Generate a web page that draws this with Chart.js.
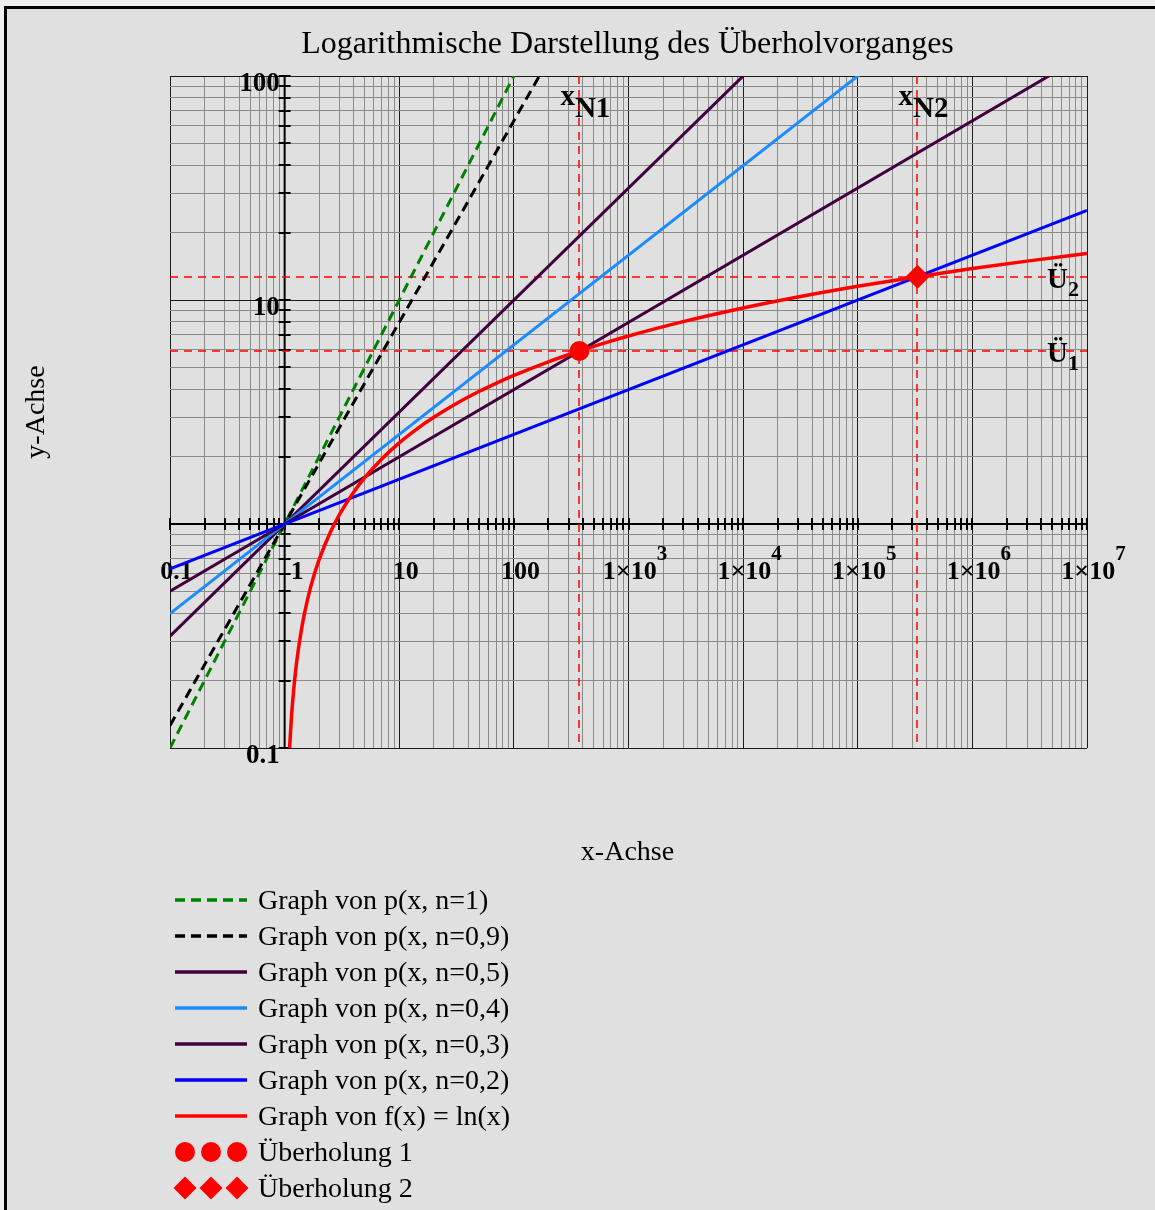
<!DOCTYPE html>
<html lang="de">
<head>
<meta charset="utf-8">
<title>Logarithmische Darstellung des Überholvorganges</title>
<script src="https://cdn.jsdelivr.net/npm/chart.js@4.4.1/dist/chart.umd.min.js"></script>
<style>
  html, body { margin: 0; padding: 0; background: #efefef; }
  body { width: 1155px; height: 1210px; position: relative; overflow: hidden; }
  #frame {
    position: absolute; left: 4px; top: 6px; width: 1170px; height: 1220px;
    background: #e0e0e0; border-left: 3px solid #000; border-top: 3px solid #000;
  }
  #plot { position: absolute; left: 0; top: 0; }
</style>
</head>
<body>
<div id="frame"></div>
<canvas id="plot" width="1155" height="1210"></canvas>
<script>
// ---- axis ranges -------------------------------------------------------
const xRange = [0.1, 1e7];
const yRange = [0.1, 100];

// ---- power functions p(x, n) = x^n, straight lines on log-log axes -----
// y values at the two ends of the x range
const powerX = [0.1, 1e7];
const powN10 = [0.1, 1e7];
const powN09 = [0.126, 1.995e6];
const powN05 = [0.316, 3162];
const powN04 = [0.398, 631];
const powN03 = [0.501, 125.9];
const powN02 = [0.631, 25.12];

// ---- f(x) = ln(x) --------------------------------------------------------
const lnX = [1.09, 1.105, 1.12, 1.15, 1.2, 1.25, 1.3, 1.4, 1.5, 1.7, 2, 2.5, 3, 4, 5, 7, 10, 15, 20, 30, 50, 70,
             100, 200, 373, 700, 1000, 3000, 1e4, 3e4, 1e5, 3.32e5, 1e6, 3e6, 1e7];
const lnY = [0.086, 0.1, 0.113, 0.14, 0.182, 0.223, 0.262, 0.336, 0.405, 0.531, 0.693, 0.916, 1.099, 1.386, 1.609,
             1.946, 2.303, 2.708, 2.996, 3.401, 3.912, 4.248, 4.605, 5.298, 5.92, 6.551, 6.908, 8.006, 9.21,
             10.309, 11.513, 12.71, 13.816, 14.914, 16.118];

// ---- overtaking points (ln(x) overtakes x^0.3, then x^0.2) -------------
const overtakeX = [373, 3.32e5];
const overtakeY = [5.92, 12.71];
const overtakeXName = ['N1', 'N2'];
const overtakeYName = ['1', '2'];

// ---- tick labels --------------------------------------------------------
const xLabelValues = [0.1, 1, 10, 100, 1e3, 1e4, 1e5, 1e6, 1e7];
const xLabelMain = ['0.1', '1', '10', '100', '1×10', '1×10', '1×10', '1×10', '1×10'];
const xLabelPower = ['', '', '', '', '3', '4', '5', '6', '7'];
const yLabelValues = [0.1, 10, 100];
const yLabelText = ['0.1', '10', '100'];

// ---- texts --------------------------------------------------------------
const titleText = 'Logarithmische Darstellung des Überholvorganges';
const xTitle = 'x-Achse';
const yTitle = 'y-Achse';
const seriesNames = [
  'Graph von p(x, n=1)', 'Graph von p(x, n=0,9)', 'Graph von p(x, n=0,5)', 'Graph von p(x, n=0,4)',
  'Graph von p(x, n=0,3)', 'Graph von p(x, n=0,2)', 'Graph von f(x) = ln(x)', 'Überholung 1', 'Überholung 2'
];

const SERIF = '"Liberation Serif", "Times New Roman", serif';
const PURPLE = '#400040';
const RED = '#ff0000';

function pairs(xs, ys) { return xs.map((v, i) => ({ x: v, y: ys[i] })); }

// grid values 1..9 x 10^e inside a range
function logGridTicks(min, max) {
  const out = [];
  const e0 = Math.round(Math.log10(min)), e1 = Math.round(Math.log10(max));
  for (let e = e0; e < e1; e++) {
    for (let k = 1; k <= 9; k++) out.push({ value: +(k * Math.pow(10, e)).toPrecision(6) });
  }
  out.push({ value: max });
  return out;
}
function isDecade(v) {
  const l = Math.log10(v);
  return Math.abs(l - Math.round(l)) < 1e-6;
}
const gridColor = (c) => (c.tick && isDecade(c.tick.value)) ? '#1a1a1a' : '#8a8a8a';

const line = { showLine: true, pointRadius: 0, pointHoverRadius: 0, borderWidth: 3, fill: false, tension: 0 };

const datasets = [
  { ...line, label: seriesNames[0], data: pairs(powerX, powN10), borderColor: '#008000', borderDash: [10, 6] },
  { ...line, label: seriesNames[1], data: pairs(powerX, powN09), borderColor: '#000000', borderDash: [10, 6] },
  { ...line, label: seriesNames[2], data: pairs(powerX, powN05), borderColor: PURPLE },
  { ...line, label: seriesNames[3], data: pairs(powerX, powN04), borderColor: '#1a8cff' },
  { ...line, label: seriesNames[4], data: pairs(powerX, powN03), borderColor: PURPLE },
  { ...line, label: seriesNames[5], data: pairs(powerX, powN02), borderColor: '#0000ff' },
  { ...line, label: seriesNames[6], data: pairs(lnX, lnY), borderColor: RED, borderWidth: 3.5,
    cubicInterpolationMode: 'monotone' },
  { label: seriesNames[7], data: pairs([overtakeX[0]], [overtakeY[0]]), showLine: false,
    pointStyle: 'circle', pointRadius: 10, backgroundColor: RED, borderColor: RED, borderWidth: 0 },
  { label: seriesNames[8], data: pairs([overtakeX[1]], [overtakeY[1]]), showLine: false,
    pointStyle: 'rectRot', pointRadius: 12, backgroundColor: RED, borderColor: RED, borderWidth: 0 }
];
// draw order: first series on top
datasets.forEach((d, i) => { d.order = datasets.length - i; });

function font(size, bold) { return (bold ? 'bold ' : '') + size + 'px ' + SERIF; }

// text with a raised or lowered smaller part
function drawScripted(ctx, x, y, main, extra, mainSize, extraSize, dy, align) {
  ctx.font = font(mainSize, true);
  const w1 = ctx.measureText(main).width;
  ctx.font = font(extraSize, true);
  const w2 = extra ? ctx.measureText(extra).width : 0;
  let left = x;
  if (align === 'center') left = x - (w1 + w2) / 2;
  ctx.textAlign = 'left';
  ctx.font = font(mainSize, true);
  ctx.fillText(main, left, y);
  if (extra) {
    ctx.font = font(extraSize, true);
    ctx.fillText(extra, left + w1, y + dy);
  }
}

const decorations = {
  id: 'decorations',
  beforeDatasetsDraw(chart) {
    const { ctx, chartArea: a, scales: { x, y } } = chart;
    const ax = x.getPixelForValue(1), ay = y.getPixelForValue(1);
    ctx.save();
    ctx.fillStyle = '#000';
    ctx.textBaseline = 'alphabetic';

    // tick labels near the crossing axes
    xLabelValues.forEach((v, i) => {
      let cx = x.getPixelForValue(v) + 6.5;
      if (v === 1) cx += 6;
      drawScripted(ctx, cx, ay + 55, xLabelMain[i], xLabelPower[i], 26, 21, -19, 'center');
    });
    ctx.font = font(27, true);
    ctx.textAlign = 'right';
    yLabelValues.forEach((v, i) => ctx.fillText(yLabelText[i], ax - 5, y.getPixelForValue(v) + 15));

    // names of the overtaking coordinates
    overtakeX.forEach((v, i) => {
      const px = x.getPixelForValue(v);
      ctx.font = font(29, true);
      ctx.textAlign = 'left';
      const wx = ctx.measureText('x').width;
      ctx.fillText('x', px - 19, a.top + 29);
      ctx.fillText(overtakeXName[i], px - 19 + wx, a.top + 41);
    });
    overtakeY.forEach((v, i) => {
      const py = y.getPixelForValue(v);
      drawScripted(ctx, a.right - 40, py + 11, 'Ü', overtakeYName[i], 29, 22, 8, 'left');
    });

    // axes through (1, 1) with tick marks
    ctx.strokeStyle = '#000';
    ctx.lineWidth = 2;
    ctx.beginPath();
    ctx.moveTo(a.left, ay); ctx.lineTo(a.right, ay);
    ctx.moveTo(ax, a.top); ctx.lineTo(ax, a.bottom);
    x.ticks.forEach(t => { const p = Math.round(x.getPixelForValue(t.value)); ctx.moveTo(p, ay - 6); ctx.lineTo(p, ay + 6); });
    y.ticks.forEach(t => { const p = Math.round(y.getPixelForValue(t.value)); ctx.moveTo(ax - 6, p); ctx.lineTo(ax + 6, p); });
    ctx.stroke();
    ctx.restore();

    // dashed red guide lines through the overtaking points
    ctx.save();
    ctx.strokeStyle = RED;
    ctx.lineWidth = 1.5;
    ctx.setLineDash([8, 6]);
    overtakeX.forEach(v => {
      const p = Math.round(x.getPixelForValue(v));
      ctx.beginPath(); ctx.moveTo(p, a.top); ctx.lineTo(p, a.bottom); ctx.stroke();
    });
    overtakeY.forEach(v => {
      const p = Math.round(y.getPixelForValue(v));
      ctx.beginPath(); ctx.moveTo(a.left, p); ctx.lineTo(a.right, p); ctx.stroke();
    });
    ctx.restore();
  },
  afterDraw(chart) {
    const { ctx, chartArea: a } = chart;
    ctx.save();
    ctx.fillStyle = '#000';
    ctx.textBaseline = 'alphabetic';
    ctx.textAlign = 'center';
    const mid = (a.left + a.right) / 2 - 1;

    ctx.font = font(32, false);
    ctx.fillText(titleText, mid, 53);
    ctx.font = font(28, false);
    ctx.fillText(xTitle, mid, 860);
    ctx.save();
    ctx.translate(35, 412);
    ctx.rotate(-Math.PI / 2);
    ctx.fillText(yTitle, 0, 9);
    ctx.restore();

    // legend: one row per series
    chart.data.datasets.forEach((d, i) => {
      const cy = 900 + 36 * i;
      if (d.showLine) {
        ctx.save();
        ctx.strokeStyle = d.borderColor;
        ctx.lineWidth = 3.5;
        ctx.setLineDash(d.borderDash || []);
        ctx.beginPath();
        ctx.moveTo(175, cy); ctx.lineTo(247, cy);
        ctx.stroke();
        ctx.restore();
      } else {
        ctx.save();
        ctx.fillStyle = d.backgroundColor;
        ctx.strokeStyle = d.borderColor;
        [185, 211, 237].forEach(mx => Chart.helpers.drawPoint(ctx, {
          pointStyle: d.pointStyle, radius: d.pointStyle === 'circle' ? 10 : 11.5, borderWidth: 0
        }, mx, cy));
        ctx.restore();
      }
      ctx.fillStyle = '#000';
      ctx.font = font(28, false);
      ctx.textAlign = 'left';
      ctx.fillText(d.label, 258, cy + 9);
    });
    ctx.restore();
  }
};

new Chart(document.getElementById('plot'), {
  type: 'scatter',
  data: { datasets },
  plugins: [decorations],
  options: {
    responsive: false,
    animation: false,
    events: [],
    layout: { padding: { left: 170, top: 76, right: 68, bottom: 462 } },
    plugins: { legend: { display: false }, title: { display: false }, tooltip: { enabled: false } },
    scales: {
      x: {
        type: 'logarithmic', min: xRange[0], max: xRange[1],
        afterBuildTicks: s => { s.ticks = logGridTicks(xRange[0], xRange[1]); },
        ticks: { display: false },
        grid: { color: gridColor, lineWidth: 1, drawTicks: false },
        border: { display: false }
      },
      y: {
        type: 'logarithmic', min: yRange[0], max: yRange[1],
        afterBuildTicks: s => { s.ticks = logGridTicks(yRange[0], yRange[1]); },
        ticks: { display: false },
        grid: { color: gridColor, lineWidth: 1, drawTicks: false },
        border: { display: false }
      }
    }
  }
});
</script>
</body>
</html>
